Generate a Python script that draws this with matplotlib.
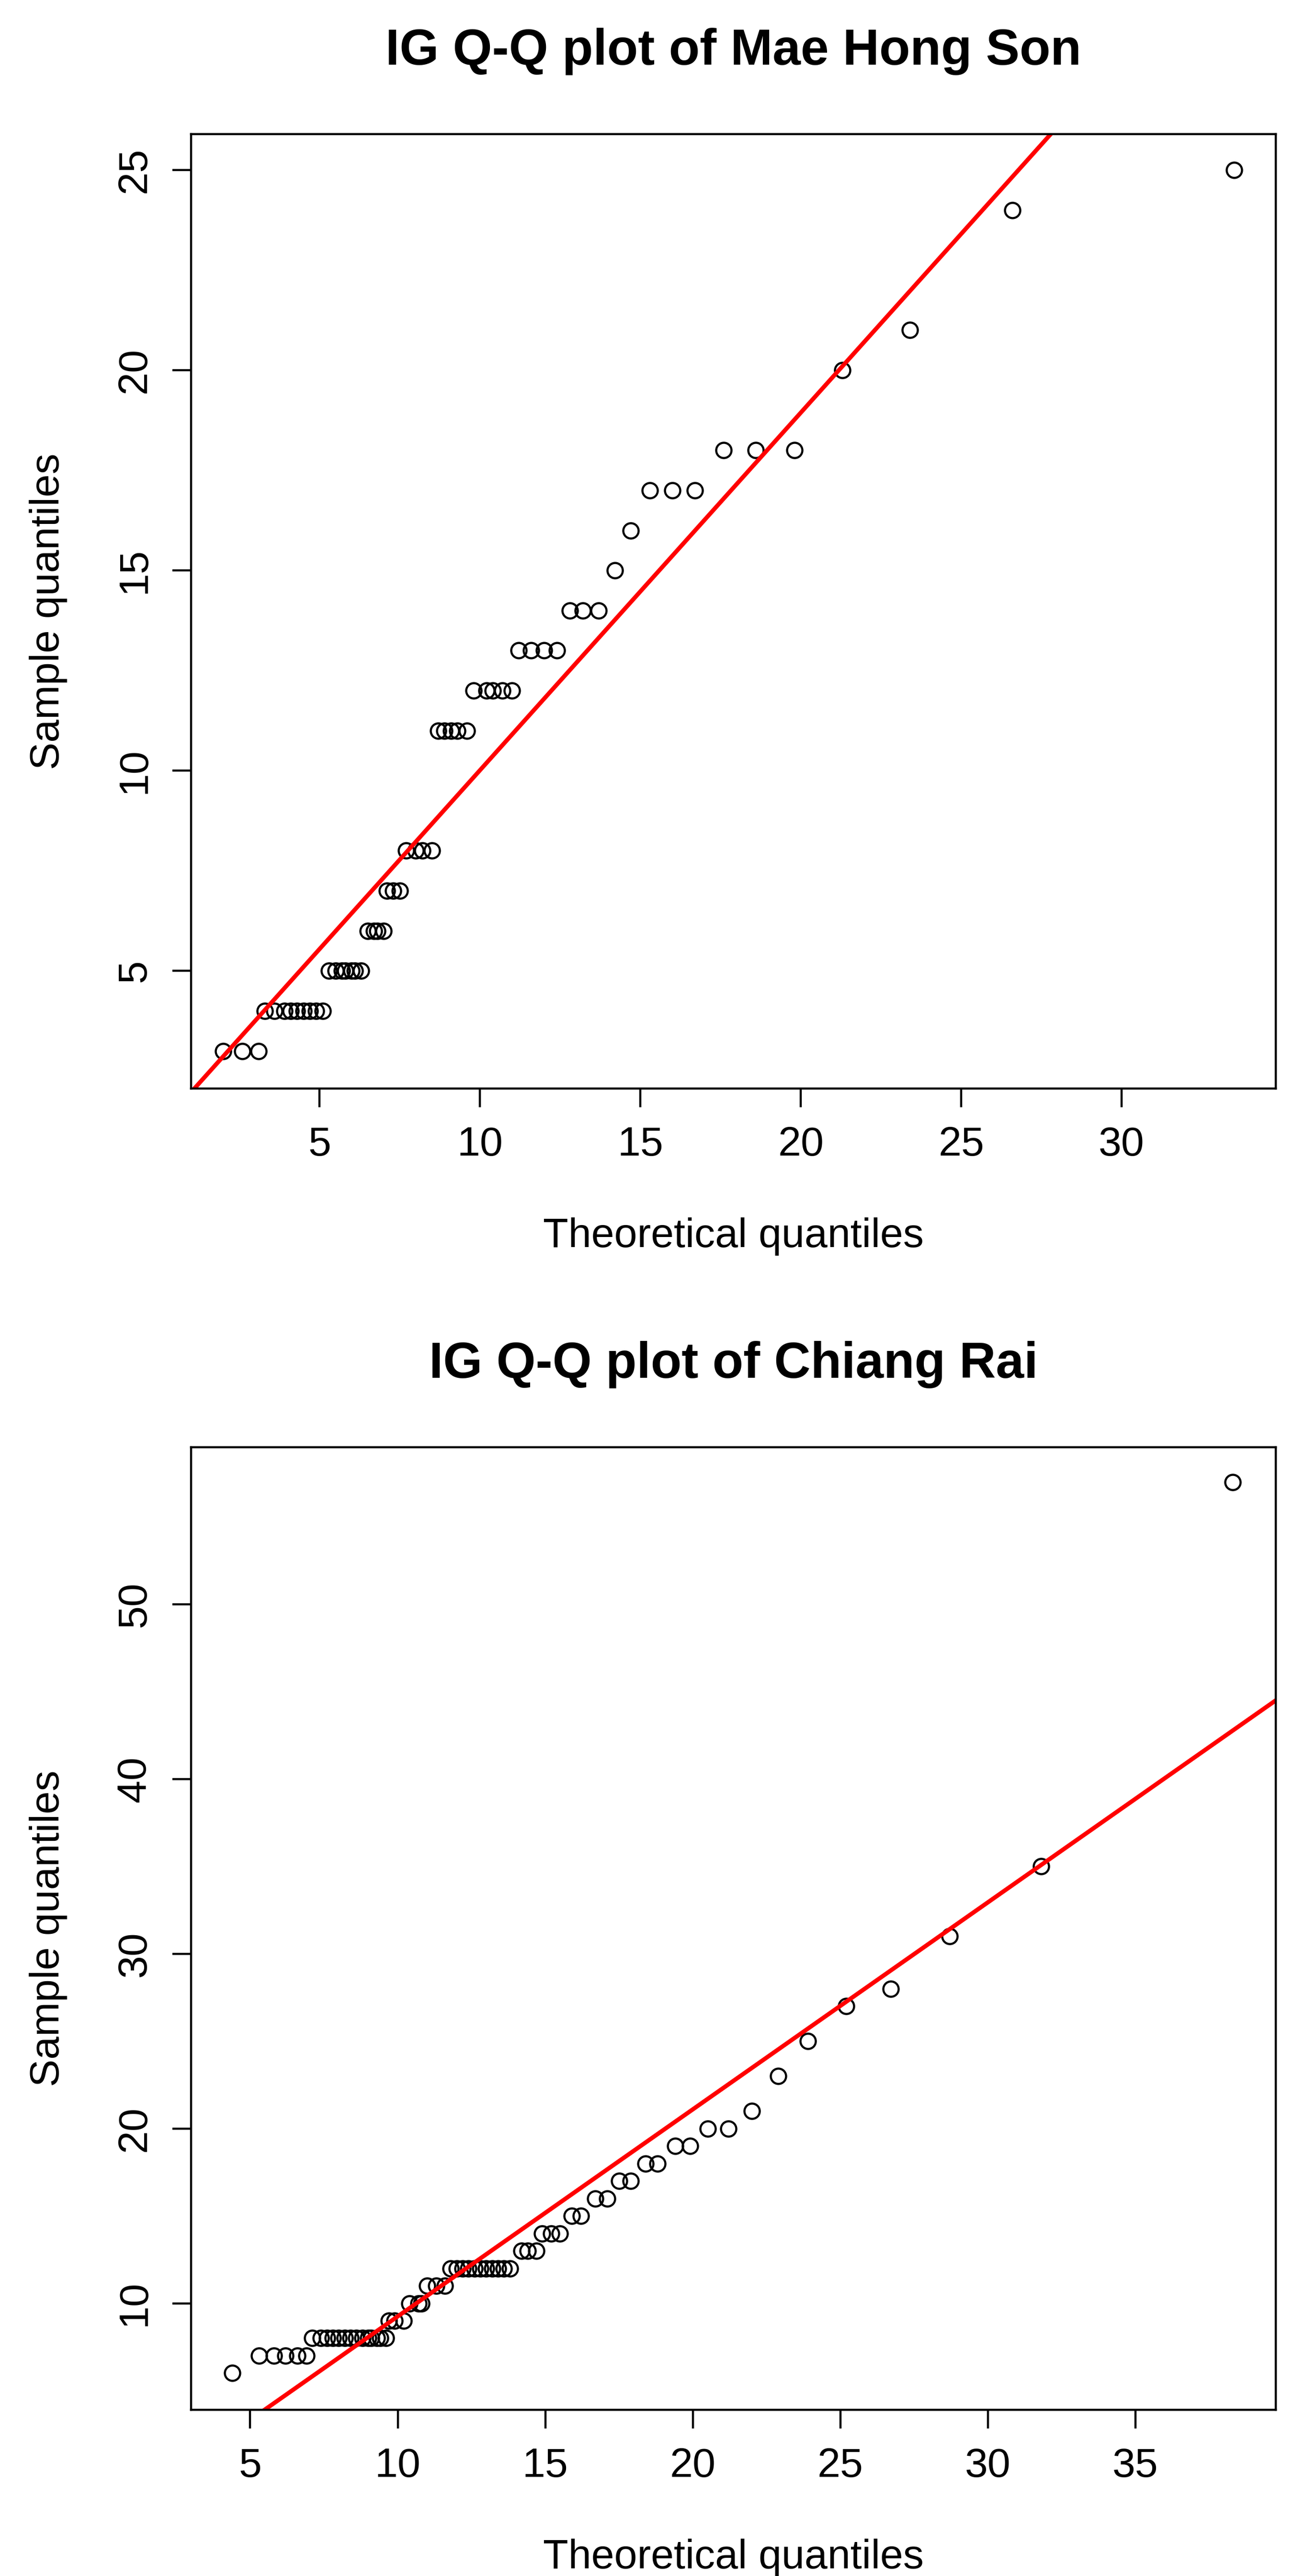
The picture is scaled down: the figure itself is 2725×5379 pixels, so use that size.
import matplotlib
matplotlib.use("Agg")
import matplotlib.pyplot as plt
import numpy as np

plt.rcParams['font.family'] = ['Liberation Sans', 'DejaVu Sans']

# Mae Hong Son
mhs_theo = [2.0, 2.6, 3.1,
            3.3, 3.6, 3.9, 4.1, 4.3, 4.5, 4.7, 4.9, 5.1,
            5.3, 5.5, 5.7, 5.8, 6.0, 6.1, 6.3,
            6.5, 6.7, 6.8, 7.0,
            7.1, 7.3, 7.5,
            7.7, 8.0, 8.2, 8.5,
            8.7, 8.9, 9.1, 9.3, 9.6,
            9.8, 10.2, 10.4, 10.7, 11.0,
            11.2, 11.6, 12.0, 12.4,
            12.8, 13.2, 13.7,
            14.2, 14.7,
            15.3, 16.0, 16.7,
            17.6, 18.6, 19.8,
            21.3, 23.4, 26.6, 33.5]
mhs_sample = [3, 3, 3,
              4, 4, 4, 4, 4, 4, 4, 4, 4,
              5, 5, 5, 5, 5, 5, 5,
              6, 6, 6, 6,
              7, 7, 7,
              8, 8, 8, 8,
              11, 11, 11, 11, 11,
              12, 12, 12, 12, 12,
              13, 13, 13, 13,
              14, 14, 14,
              15, 16,
              17, 17, 17,
              18, 18, 18,
              20, 21, 24, 25]
mhs_line = (0.893, 1.08)

# Chiang Rai
cr_theo = [4.4,
           5.3, 5.8, 6.2, 6.6, 6.9,
           7.1, 7.4, 7.6, 7.8, 8.0, 8.2, 8.4, 8.6, 8.8, 9.0, 9.1, 9.3, 9.4, 9.6,
           9.7, 9.9, 10.2,
           10.4, 10.7, 10.8,
           11.0, 11.3, 11.6,
           11.8, 12.0, 12.2, 12.4, 12.6, 12.8, 13.0, 13.2, 13.4, 13.6, 13.8,
           14.2, 14.4, 14.7,
           14.9, 15.2, 15.5,
           15.9, 16.2,
           16.7, 17.1,
           17.5, 17.9,
           18.4, 18.8,
           19.4, 19.9,
           20.5, 21.2,
           22.0, 22.9, 23.9, 25.2, 26.7, 28.7, 31.8, 38.3]
cr_sample = [6,
             7, 7, 7, 7, 7,
             8, 8, 8, 8, 8, 8, 8, 8, 8, 8, 8, 8, 8, 8,
             9, 9, 9,
             10, 10, 10,
             11, 11, 11,
             12, 12, 12, 12, 12, 12, 12, 12, 12, 12, 12,
             13, 13, 13,
             14, 14, 14,
             15, 15,
             16, 16,
             17, 17,
             18, 18,
             19, 19,
             20, 20,
             21, 23, 25, 27, 28, 31, 35, 57]
cr_line = (1.185, -2.6)

fig = plt.figure(figsize=(13.625, 26.895), dpi=200)

def panel(rect, theo, samp, line, title, xlim, ylim, xticks, yticks):
    ax = fig.add_axes(rect)
    ax.plot(theo, samp, 'o', mfc='none', mec='black', ms=11.5, mew=1.6)
    xs = np.array(xlim)
    ax.plot(xs, line[0] * xs + line[1], color='red', lw=3.2)
    ax.set_xlim(xlim)
    ax.set_ylim(ylim)
    ax.set_xticks(xticks)
    ax.set_yticks(yticks)
    ax.tick_params(labelsize=31, length=14, width=1.6, pad=14)
    for lab in ax.get_yticklabels():
        lab.set_rotation(90)
        lab.set_va('center')
    for s in ax.spines.values():
        s.set_linewidth(1.6)
    ax.set_xlabel('Theoretical quantiles', fontsize=31, labelpad=40)
    ax.set_ylabel('Sample quantiles', fontsize=31, labelpad=36)
    ax.set_title(title, fontsize=38, fontweight='bold', pad=52)
    return ax

panel([0.1465, 0.5774, 0.831, 0.3706], mhs_theo, mhs_sample, mhs_line,
      'IG Q-Q plot of Mae Hong Son', (1.0, 34.8), (2.06, 25.9),
      [5, 10, 15, 20, 25, 30], [5, 10, 15, 20, 25])
panel([0.1465, 0.0645, 0.831, 0.3737], cr_theo, cr_sample, cr_line,
      'IG Q-Q plot of Chiang Rai', (3.0, 39.75), (3.9, 59.0),
      [5, 10, 15, 20, 25, 30, 35], [10, 20, 30, 40, 50])

fig.savefig('out.png', dpi=200)
